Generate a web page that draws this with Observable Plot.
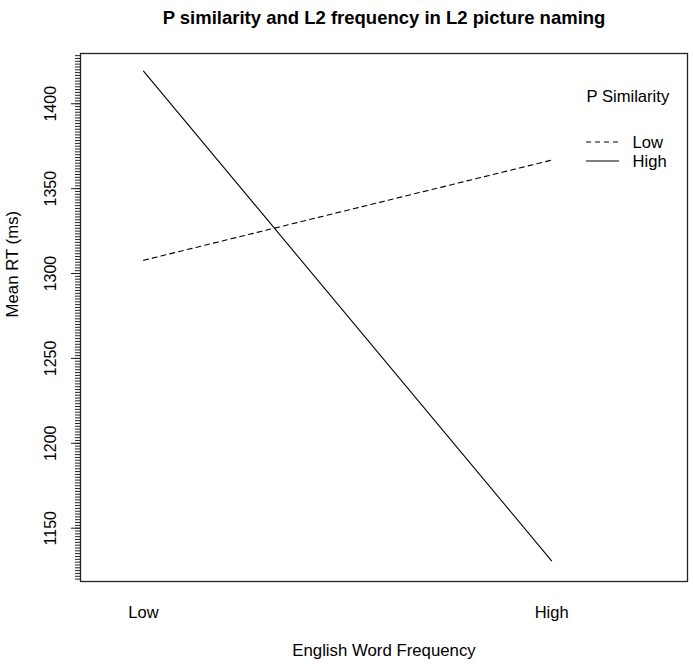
<!DOCTYPE html>
<html>
<head>
<meta charset="utf-8">
<script src="https://cdn.jsdelivr.net/npm/d3@7"></script>
<script src="https://cdn.jsdelivr.net/npm/@observablehq/plot@0.6"></script>
<style>
  html, body { margin: 0; padding: 0; background: #fff; }
  #chart svg { display: block; font-family: "Liberation Sans", Arial, Helvetica, sans-serif; }
</style>
</head>
<body>
<div id="chart"></div>
<script>
// Data
const frequencyLevels = ["Low", "High"];
const similarityLevels = ["Low", "High"];
const rtLowSimilarity = [1307.8, 1366.8];
const rtHighSimilarity = [1419.2, 1130.8];
const yTickValues = [1150, 1200, 1250, 1300, 1350, 1400];
const titleText = "P similarity and L2 frequency in L2 picture naming";
const xLabelText = "English Word Frequency";
const yLabelText = "Mean RT (ms)";
const legendTitle = "P Similarity";

const rows = [];
frequencyLevels.forEach((f, i) => {
  rows.push({freq: i + 1, sim: "Low", rt: rtLowSimilarity[i]});
  rows.push({freq: i + 1, sim: "High", rt: rtHighSimilarity[i]});
});

const minorTicks = d3.range(1120, 1430, 5 / 3);

const W = 693, H = 664;
const font = "Liberation Sans, Arial, Helvetica, sans-serif";

const plot = Plot.plot({
  width: W,
  height: H,
  marginTop: 53,
  marginLeft: 80,
  marginRight: 6,
  marginBottom: 83,
  style: {fontFamily: font, fontSize: "16px", color: "#000", background: "#fff"},
  x: {domain: [0.8456, 2.333], axis: null},
  y: {domain: [1118.6, 1429.6], axis: null},
  marks: [
    Plot.axisY({ticks: minorTicks, tickSize: 5, tickFormat: () => "", label: null, stroke: "#222"}),
    Plot.axisY({ticks: yTickValues, tickSize: 9, tickRotate: -90, tickPadding: 16, fontSize: 16, tickFormat: d3.format("d"), label: null, stroke: "#222"}),
    Plot.axisX({ticks: [1, 2], tickSize: 0, tickPadding: 25, fontSize: 16.5, tickFormat: d => frequencyLevels[d - 1], label: null}),
    Plot.frame({stroke: "#222", strokeWidth: 1.3}),
    Plot.line(rows.filter(d => d.sim === "Low"), {x: "freq", y: "rt", stroke: "#000", strokeWidth: 1.1, strokeDasharray: "5,4"}),
    Plot.line(rows.filter(d => d.sim === "High"), {x: "freq", y: "rt", stroke: "#000", strokeWidth: 1.1}),
    Plot.text([titleText], {frameAnchor: "top", dy: -35, lineAnchor: "middle", fontWeight: "bold", fontSize: 18.5}),
    Plot.text([xLabelText], {frameAnchor: "bottom", dy: 69, lineAnchor: "middle", fontSize: 16.8}),
    Plot.text([yLabelText], {frameAnchor: "left", dx: -68, rotate: -90, fontSize: 16.8}),
    Plot.text([legendTitle], {frameAnchor: "top-right", dx: -101, dy: 43, lineAnchor: "middle", textAnchor: "start", fontSize: 16.6}),
    Plot.text([similarityLevels[0]], {frameAnchor: "top-right", dx: -55, dy: 89, lineAnchor: "middle", textAnchor: "start", fontSize: 16.6}),
    Plot.text([similarityLevels[1]], {frameAnchor: "top-right", dx: -55, dy: 108, lineAnchor: "middle", textAnchor: "start", fontSize: 16.6})
  ]
});

// legend line samples
const svg = d3.select(plot);
const frameTop = 53, frameRight = W - 6;
[["5,4", 89], [null, 108]].forEach(([dash, dy]) => {
  const l = svg.append("line")
    .attr("x1", frameRight - 101).attr("x2", frameRight - 68)
    .attr("y1", frameTop + dy).attr("y2", frameTop + dy)
    .attr("stroke", "#000").attr("stroke-width", 1.1);
  if (dash) l.attr("stroke-dasharray", dash);
});

document.getElementById("chart").appendChild(plot);
</script>
</body>
</html>
